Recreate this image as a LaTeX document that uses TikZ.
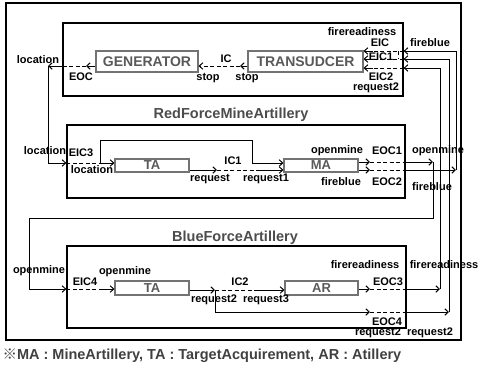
\documentclass[tikz,border=0pt]{standalone}
\usepackage{fontspec}
\setmainfont{Liberation Sans}
\newfontfamily\cjkfont{Noto Sans CJK KR}
\usetikzlibrary{arrows.meta}
\tikzset{every picture/.style={line width=1pt}}
\tikzset{
  blockbox/.style={draw, line width=1.3pt, inner sep=0pt},
  atomic/.style={draw=black!55, line width=1.2pt, text=black!65, inner sep=0pt,
    font=\fontsize{14}{14}\selectfont\bfseries},
  title/.style={inner sep=0pt, text=black!70, font=\fontsize{14.5}{14.5}\selectfont\bfseries},
  lbl/.style={inner sep=0pt, font=\fontsize{11}{11}\selectfont\bfseries},
  arr/.style={-{Straight Barb[length=3.5pt,width=6.5pt]}},
  dsh/.style={dash pattern=on 4pt off 2.5pt}
}

\begin{document}
\begin{tikzpicture}[x=1pt,y=-1pt]
\useasboundingbox (0,0) rectangle (481,375);
\draw[line width=1.3pt] (6,3) rectangle (461,340);
%
\node[blockbox, minimum width=340, minimum height=73] (top) at (233,59.5) {};
\node[blockbox, minimum width=338, minimum height=73] (red) at (236,161.5) {};
\node[blockbox, minimum width=339, minimum height=82] (blue) at (236.5,287) {};
\node[title] (redT) at (231,115) {RedForceMineArtillery};
\node[title] (blueT) at (235,238) {BlueForceArtillery};
%
\node[atomic, minimum width=102, minimum height=21] (gen) at (147,61.5) {GENERATOR};
\node[atomic, minimum width=115, minimum height=21] (trans) at (305.5,61.5) {TRANSUDCER};
\node[atomic, minimum width=74, minimum height=13, font=\fontsize{13}{13}\selectfont\bfseries] (ta1) at (152,165.5) {TA};
\node[atomic, minimum width=74, minimum height=13, font=\fontsize{13}{13}\selectfont\bfseries] (ma) at (321,165.5) {MA};
\node[atomic, minimum width=74, minimum height=14, font=\fontsize{13}{13}\selectfont\bfseries] (ta2) at (152,288) {TA};
\node[atomic, minimum width=73, minimum height=14, font=\fontsize{13}{13}\selectfont\bfseries] (ar) at (321.5,288) {AR};
%
\coordinate (stop) at (240,66);
\coordinate (eoc) at (86,66);
\coordinate (loc) at (48,66);
\coordinate (eic) at (373,51);
\coordinate (eic1) at (373,59);
\coordinate (eic2) at (373,68);
\draw[arr] (trans.west |- stop) -- (stop);
\draw[dsh,arr] (stop) -- (gen.east |- stop);
\draw[arr] (gen.west |- eoc) -- (eoc);
\draw[dsh] (eoc) -- (top.west |- eoc);
\draw[arr] (top.west |- eoc) -- (loc);
\foreach \p in {eic,eic1,eic2} {
  \draw[dsh] (top.east |- \p) -- (\p);
  \draw[arr] (\p) -- (trans.east |- \p);
}
\draw[dsh] (398,51) -- (398,59);
%
\coordinate (eic3) at (100,163);
\coordinate (req) at (217,170);
\coordinate (req1) at (258,170);
\draw[arr] (loc) -- (loc |- eic3) -- (red.west |- eic3);
\draw[dsh] (red.west |- eic3) -- (eic3);
\draw[arr] (eic3) -- (ta1.west |- eic3);
\draw[arr] (eic3) -- (100,140) -- (252,140) -- (252,163) -- (ma.west |- eic3);
\draw[arr] (ta1.east |- req) -- (req);
\draw[dsh] (req) -- (req1);
\draw[arr] (req1) -- (ma.west |- req1);
\coordinate (eoc1) at (370,162);
\coordinate (eoc2) at (370,170);
\coordinate (om) at (433,162);
\coordinate (fb) at (456,170);
\foreach \p/\q in {eoc1/om, eoc2/fb} {
  \draw[arr] (ma.east |- \p) -- (\p);
  \draw[dsh] (\p) -- (red.east |- \p);
  \draw[arr] (red.east |- \p) -- (\q);
}
\draw[arr] (fb) -- (fb |- eic) -- (top.east |- eic);
%
\coordinate (eic4) at (100,289);
\coordinate (req2) at (215,290);
\coordinate (req3) at (258,290);
\draw[arr] (om) -- (om |- 0,218) -- (29,218) -- (29,289) -- (blue.west |- eic4);
\draw[dsh] (blue.west |- eic4) -- (eic4);
\draw[arr] (eic4) -- (ta2.west |- eic4);
\draw[arr] (ta2.east |- req2) -- (req2);
\draw[dsh] (req2) -- (req3);
\draw[arr] (req3) -- (ar.west |- req3);
\coordinate (eoc3) at (370,289);
\coordinate (eoc4) at (370,312);
\coordinate (fr) at (440,289);
\coordinate (rq) at (449,312);
\draw[arr] (ar.east |- eoc3) -- (eoc3);
\draw[arr] (req2) -- (req2 |- eoc4) -- (eoc4);
\foreach \p/\q in {eoc3/fr, eoc4/rq} {
  \draw[dsh] (\p) -- (blue.east |- \p);
  \draw[arr] (blue.east |- \p) -- (\q);
}
\draw[arr] (fr) -- (fr |- eic2) -- (top.east |- eic2);
\draw[arr] (rq) -- (rq |- eic1) -- (top.east |- eic1);
%
\node[lbl] (tLoc) at (38,60) {location};
\node[lbl] (tEoc) at (81,77) {EOC};
\node[lbl] (tIc) at (226,59) {IC};
\node[lbl] (tStop1) at (208,78) {stop};
\node[lbl] (tStop2) at (247,78) {stop};
\node[lbl] (tFr) at (362,32) {firereadiness};
\node[lbl] (tEic) at (380,43) {EIC};
\node[lbl] (tEic1) at (381,57) {EIC1};
\node[lbl] (tEic2) at (381,77) {EIC2};
\node[lbl] (tRq) at (376,88) {request2};
\node[lbl] (tFb) at (430,43) {fireblue};
%
\node[lbl] (rLoc) at (45,151) {location};
\node[lbl] (rEic3) at (81,153) {EIC3};
\node[lbl] (rLoc2) at (92,170) {location};
\node[lbl] (rReq) at (210,179) {request};
\node[lbl] (rIc1) at (233,161) {IC1};
\node[lbl] (rReq1) at (266,179) {request1};
\node[lbl] (rOm) at (337,151) {openmine};
\node[lbl] (rEoc1) at (387,151) {EOC1};
\node[lbl] (rFb) at (341,182) {fireblue};
\node[lbl] (rEoc2) at (387,182) {EOC2};
\node[lbl] (rOm2) at (438,151) {openmine};
\node[lbl] (rFb2) at (432,187) {fireblue};
%
\node[lbl] (bOm) at (39,271) {openmine};
\node[lbl] (bEic4) at (85,282) {EIC4};
\node[lbl] (bOm2) at (125,272) {openmine};
\node[lbl] (bIc2) at (240,282) {IC2};
\node[lbl] (bReq2) at (214,300) {request2};
\node[lbl] (bReq3) at (266,300) {request3};
\node[lbl] (bFr) at (365,265) {firereadiness};
\node[lbl] (bEoc3) at (388,282) {EOC3};
\node[lbl] (bFr2) at (444,265) {firereadiness};
\node[lbl] (bEoc4) at (387,322) {EOC4};
\node[lbl] (bRq) at (378,333) {request2};
\node[lbl] (bRq2) at (430,333) {request2};
%
\node[anchor=west, inner sep=0pt, text=black!75, font=\fontsize{14.5}{14.5}\selectfont\bfseries] (note) at (2,356)
  {{\cjkfont ※}MA : MineArtillery, TA : TargetAcquirement, AR : Atillery};
\end{tikzpicture}
\end{document}
